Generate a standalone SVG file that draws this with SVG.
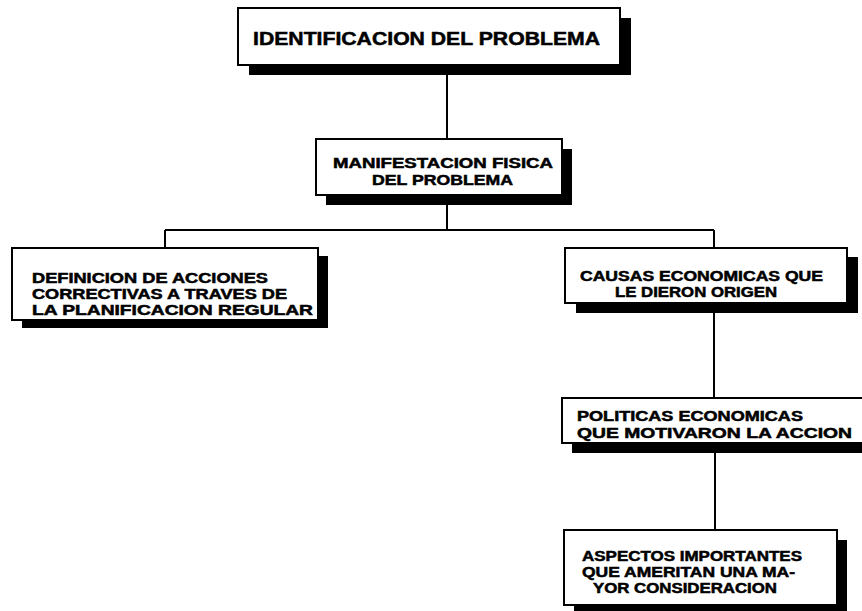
<svg xmlns="http://www.w3.org/2000/svg" width="862" height="611" viewBox="0 0 862 611">
<style>
.sh{fill:#000}
.bx{fill:#fff;stroke:#000;stroke-width:2}
.cn{fill:none;stroke:#000;stroke-width:2}
text{font-family:"Liberation Sans",Arial,sans-serif;font-weight:bold;fill:#000;stroke:#000;stroke-width:0.5}
.t1{font-size:18px}
.t2{font-size:14px}
</style>
<rect width="862" height="611" fill="#fff"/>
<g id="connectors">
<path class="cn" d="M447 65V139"/>
<path class="cn" d="M447 205V230M165 230H714M165 230V248M714 230V248"/>
<path class="cn" d="M714 313V398"/>
<path class="cn" d="M715 453V530"/>
</g>
<g id="n1">
<rect class="sh" x="249" y="18" width="382" height="57"/>
<rect class="bx" x="238" y="8" width="382" height="57"/>
<text class="t1" x="253" y="45" textLength="347" lengthAdjust="spacingAndGlyphs">IDENTIFICACION DEL PROBLEMA</text>
</g>
<g id="n2">
<rect class="sh" x="326" y="149" width="246" height="56"/>
<rect class="bx" x="316" y="139" width="246" height="56"/>
<text class="t2" x="333" y="168" textLength="220" lengthAdjust="spacingAndGlyphs">MANIFESTACION FISICA</text>
<text class="t2" x="372" y="185" textLength="141" lengthAdjust="spacingAndGlyphs">DEL PROBLEMA</text>
</g>
<g id="n3">
<rect class="sh" x="22" y="256" width="306" height="72"/>
<rect class="bx" x="12" y="248" width="306" height="72"/>
<text class="t2" x="32" y="283" textLength="236" lengthAdjust="spacingAndGlyphs">DEFINICION DE ACCIONES</text>
<text class="t2" x="32" y="299" textLength="255" lengthAdjust="spacingAndGlyphs">CORRECTIVAS A TRAVES DE</text>
<text class="t2" x="32" y="315" textLength="281" lengthAdjust="spacingAndGlyphs">LA PLANIFICACION REGULAR</text>
</g>
<g id="n4">
<rect class="sh" x="576" y="257" width="282" height="56"/>
<rect class="bx" x="565" y="248" width="282" height="55"/>
<text class="t2" x="580" y="281" textLength="243" lengthAdjust="spacingAndGlyphs">CAUSAS ECONOMICAS QUE</text>
<text class="t2" x="615" y="297" textLength="162" lengthAdjust="spacingAndGlyphs">LE DIERON ORIGEN</text>
</g>
<g id="n5">
<rect class="sh" x="572" y="408" width="300" height="45"/>
<rect class="bx" x="562" y="398" width="310" height="45"/>
<text class="t2" x="577" y="421" textLength="226" lengthAdjust="spacingAndGlyphs">POLITICAS ECONOMICAS</text>
<text class="t2" x="577" y="438" textLength="275" lengthAdjust="spacingAndGlyphs">QUE MOTIVARON LA ACCION</text>
</g>
<g id="n6">
<rect class="sh" x="574" y="540" width="273" height="75"/>
<rect class="bx" x="564" y="530" width="273" height="75"/>
<text class="t2" x="582" y="561" textLength="220" lengthAdjust="spacingAndGlyphs">ASPECTOS IMPORTANTES</text>
<text class="t2" x="582" y="577" textLength="213" lengthAdjust="spacingAndGlyphs">QUE AMERITAN UNA MA-</text>
<text class="t2" x="593" y="593" textLength="184" lengthAdjust="spacingAndGlyphs">YOR CONSIDERACION</text>
</g>
</svg>
